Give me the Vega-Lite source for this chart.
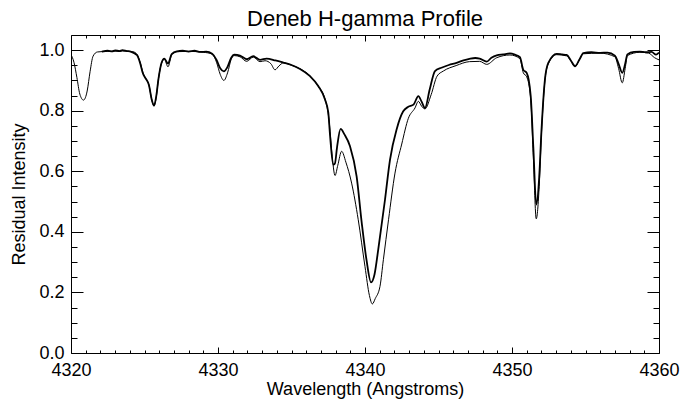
{
  "$schema": "https://vega.github.io/schema/vega-lite/v6.json",
  "autosize": "none",
  "width": 588,
  "height": 318,
  "padding": {"left": 71, "top": 35, "right": 30, "bottom": 47},
  "background": "white",
  "config": {
    "view": {"stroke": "black", "strokeWidth": 1},
    "font": "Liberation Sans",
    "axis": {"grid": false, "domain": false, "labelFlush": false, "tickColor": "black", "labelColor": "black", "titleColor": "black", "labelFont": "Liberation Sans", "titleFont": "Liberation Sans", "labelFontSize": 18, "titleFontSize": 18, "titleFontWeight": "normal", "tickWidth": 1}
  },
  "title": {"text": "Deneb H-gamma Profile", "fontSize": 22, "fontWeight": "normal", "font": "Liberation Sans", "color": "black", "offset": 4, "anchor": "middle"},
  "datasets": {
    "model": [
      {"w": 4320.0, "r": 0.985}, {"w": 4320.2, "r": 0.96}, {"w": 4320.4, "r": 0.91}, {"w": 4320.6, "r": 0.855},
      {"w": 4320.85, "r": 0.835}, {"w": 4321.1, "r": 0.865}, {"w": 4321.3, "r": 0.93}, {"w": 4321.5, "r": 0.98},
      {"w": 4321.8, "r": 0.994}, {"w": 4322.5, "r": 0.996}, {"w": 4323.5, "r": 0.997}, {"w": 4324.2, "r": 0.995},
      {"w": 4324.5, "r": 0.985}, {"w": 4324.7, "r": 0.96}, {"w": 4324.9, "r": 0.925}, {"w": 4325.1, "r": 0.905},
      {"w": 4325.3, "r": 0.885}, {"w": 4325.5, "r": 0.835}, {"w": 4325.65, "r": 0.815}, {"w": 4325.8, "r": 0.845},
      {"w": 4325.95, "r": 0.905}, {"w": 4326.15, "r": 0.955}, {"w": 4326.35, "r": 0.97}, {"w": 4326.6, "r": 0.945},
      {"w": 4326.85, "r": 0.985}, {"w": 4327.2, "r": 0.995}, {"w": 4328.0, "r": 0.996}, {"w": 4329.0, "r": 0.993},
      {"w": 4329.6, "r": 0.987}, {"w": 4329.9, "r": 0.96}, {"w": 4330.15, "r": 0.92}, {"w": 4330.4, "r": 0.9},
      {"w": 4330.65, "r": 0.925}, {"w": 4330.9, "r": 0.97}, {"w": 4331.1, "r": 0.982}, {"w": 4331.5, "r": 0.978},
      {"w": 4331.95, "r": 0.963}, {"w": 4332.4, "r": 0.977}, {"w": 4332.86, "r": 0.962}, {"w": 4333.2, "r": 0.965},
      {"w": 4333.6, "r": 0.955}, {"w": 4333.88, "r": 0.935}, {"w": 4334.15, "r": 0.948}, {"w": 4334.45, "r": 0.958},
      {"w": 4335.0, "r": 0.95}, {"w": 4335.6, "r": 0.938}, {"w": 4336.3, "r": 0.913}, {"w": 4336.8, "r": 0.882},
      {"w": 4337.3, "r": 0.835}, {"w": 4337.55, "r": 0.77}, {"w": 4337.75, "r": 0.66}, {"w": 4337.96, "r": 0.586},
      {"w": 4338.15, "r": 0.62}, {"w": 4338.41, "r": 0.666}, {"w": 4338.7, "r": 0.63}, {"w": 4339.09, "r": 0.561},
      {"w": 4339.54, "r": 0.44}, {"w": 4340.0, "r": 0.285}, {"w": 4340.3, "r": 0.19}, {"w": 4340.5, "r": 0.162},
      {"w": 4340.7, "r": 0.18}, {"w": 4341.02, "r": 0.22}, {"w": 4341.25, "r": 0.308}, {"w": 4341.6, "r": 0.44},
      {"w": 4342.04, "r": 0.594}, {"w": 4342.5, "r": 0.69}, {"w": 4342.95, "r": 0.775}, {"w": 4343.4, "r": 0.809},
      {"w": 4343.63, "r": 0.831}, {"w": 4343.85, "r": 0.815}, {"w": 4344.08, "r": 0.806}, {"w": 4344.5, "r": 0.853},
      {"w": 4344.9, "r": 0.914}, {"w": 4345.33, "r": 0.931}, {"w": 4346.2, "r": 0.949}, {"w": 4347.1, "r": 0.962},
      {"w": 4347.8, "r": 0.963}, {"w": 4348.28, "r": 0.953}, {"w": 4348.96, "r": 0.975}, {"w": 4349.86, "r": 0.984},
      {"w": 4350.54, "r": 0.972}, {"w": 4350.77, "r": 0.925}, {"w": 4351.0, "r": 0.912}, {"w": 4351.27, "r": 0.84},
      {"w": 4351.45, "r": 0.65}, {"w": 4351.65, "r": 0.443}, {"w": 4351.85, "r": 0.55}, {"w": 4352.0, "r": 0.72},
      {"w": 4352.24, "r": 0.9}, {"w": 4352.47, "r": 0.955}, {"w": 4353.04, "r": 0.985}, {"w": 4353.72, "r": 0.981},
      {"w": 4354.0, "r": 0.965}, {"w": 4354.29, "r": 0.945}, {"w": 4354.6, "r": 0.97}, {"w": 4354.85, "r": 0.988},
      {"w": 4356.0, "r": 0.99}, {"w": 4357.0, "r": 0.978}, {"w": 4357.25, "r": 0.94}, {"w": 4357.5, "r": 0.892},
      {"w": 4357.7, "r": 0.94}, {"w": 4357.85, "r": 0.982}, {"w": 4358.7, "r": 0.993}, {"w": 4359.3, "r": 0.99},
      {"w": 4359.7, "r": 0.975}, {"w": 4360.0, "r": 0.968}
    ],
    "obs": [
      {"w": 4322.1, "r": 0.995}, {"w": 4322.5, "r": 0.998}, {"w": 4322.8, "r": 0.996}, {"w": 4323.0, "r": 0.999},
      {"w": 4323.3, "r": 0.997}, {"w": 4323.5, "r": 1.0}, {"w": 4323.8, "r": 0.997}, {"w": 4324.0, "r": 0.996},
      {"w": 4324.3, "r": 0.99}, {"w": 4324.5, "r": 0.983}, {"w": 4324.7, "r": 0.958}, {"w": 4324.9, "r": 0.922},
      {"w": 4325.1, "r": 0.905}, {"w": 4325.3, "r": 0.885}, {"w": 4325.5, "r": 0.835}, {"w": 4325.65, "r": 0.817},
      {"w": 4325.8, "r": 0.848}, {"w": 4325.95, "r": 0.905}, {"w": 4326.15, "r": 0.957}, {"w": 4326.35, "r": 0.972},
      {"w": 4326.6, "r": 0.956}, {"w": 4326.85, "r": 0.987}, {"w": 4327.2, "r": 0.996}, {"w": 4327.6, "r": 0.998},
      {"w": 4328.0, "r": 0.995}, {"w": 4328.4, "r": 0.998}, {"w": 4328.8, "r": 0.994}, {"w": 4329.2, "r": 0.995},
      {"w": 4329.6, "r": 0.988}, {"w": 4329.9, "r": 0.968}, {"w": 4330.15, "r": 0.94}, {"w": 4330.4, "r": 0.93},
      {"w": 4330.65, "r": 0.945}, {"w": 4330.9, "r": 0.975}, {"w": 4331.1, "r": 0.985}, {"w": 4331.5, "r": 0.982},
      {"w": 4331.95, "r": 0.97}, {"w": 4332.4, "r": 0.98}, {"w": 4332.86, "r": 0.968}, {"w": 4333.3, "r": 0.972},
      {"w": 4333.9, "r": 0.966}, {"w": 4334.44, "r": 0.959}, {"w": 4335.0, "r": 0.951}, {"w": 4335.58, "r": 0.938},
      {"w": 4336.26, "r": 0.914}, {"w": 4336.83, "r": 0.881}, {"w": 4337.28, "r": 0.837}, {"w": 4337.5, "r": 0.795},
      {"w": 4337.62, "r": 0.72}, {"w": 4337.84, "r": 0.622}, {"w": 4337.95, "r": 0.625}, {"w": 4338.1, "r": 0.68},
      {"w": 4338.34, "r": 0.74}, {"w": 4338.6, "r": 0.722}, {"w": 4338.98, "r": 0.683}, {"w": 4339.43, "r": 0.583},
      {"w": 4339.78, "r": 0.429}, {"w": 4340.1, "r": 0.308}, {"w": 4340.41, "r": 0.233}, {"w": 4340.65, "r": 0.26},
      {"w": 4340.9, "r": 0.341}, {"w": 4341.36, "r": 0.506}, {"w": 4341.7, "r": 0.638}, {"w": 4342.16, "r": 0.74},
      {"w": 4342.6, "r": 0.798}, {"w": 4342.95, "r": 0.813}, {"w": 4343.3, "r": 0.82}, {"w": 4343.63, "r": 0.848},
      {"w": 4343.85, "r": 0.83}, {"w": 4344.08, "r": 0.809}, {"w": 4344.4, "r": 0.87}, {"w": 4344.76, "r": 0.931},
      {"w": 4345.2, "r": 0.942}, {"w": 4345.7, "r": 0.951}, {"w": 4346.23, "r": 0.958}, {"w": 4346.7, "r": 0.966},
      {"w": 4347.1, "r": 0.971}, {"w": 4347.5, "r": 0.974}, {"w": 4347.8, "r": 0.972}, {"w": 4348.28, "r": 0.962},
      {"w": 4348.6, "r": 0.975}, {"w": 4348.96, "r": 0.983}, {"w": 4349.4, "r": 0.986}, {"w": 4349.86, "r": 0.989},
      {"w": 4350.2, "r": 0.985}, {"w": 4350.54, "r": 0.977}, {"w": 4350.77, "r": 0.935}, {"w": 4351.0, "r": 0.925},
      {"w": 4351.27, "r": 0.85}, {"w": 4351.45, "r": 0.68}, {"w": 4351.65, "r": 0.49}, {"w": 4351.85, "r": 0.58},
      {"w": 4352.0, "r": 0.73}, {"w": 4352.24, "r": 0.903}, {"w": 4352.47, "r": 0.958}, {"w": 4353.04, "r": 0.988},
      {"w": 4353.4, "r": 0.986}, {"w": 4353.72, "r": 0.984}, {"w": 4354.0, "r": 0.966}, {"w": 4354.29, "r": 0.947},
      {"w": 4354.6, "r": 0.97}, {"w": 4354.85, "r": 0.99}, {"w": 4355.4, "r": 0.993}, {"w": 4356.0, "r": 0.991},
      {"w": 4356.5, "r": 0.992}, {"w": 4357.0, "r": 0.982}, {"w": 4357.25, "r": 0.955}, {"w": 4357.5, "r": 0.925},
      {"w": 4357.7, "r": 0.955}, {"w": 4357.85, "r": 0.986}, {"w": 4358.3, "r": 0.994}, {"w": 4358.7, "r": 0.995},
      {"w": 4359.1, "r": 0.993}, {"w": 4359.5, "r": 0.994}, {"w": 4359.8, "r": 0.985}, {"w": 4360.0, "r": 0.992}
    ]
  },
  "layer": [
    {
      "data": {"name": "model"},
      "mark": {"type": "line", "color": "black", "strokeWidth": 1, "clip": true, "interpolate": "monotone"},
      "encoding": {
        "x": {"field": "w", "type": "quantitative", "scale": {"domain": [4320, 4360], "nice": false, "zero": false},
          "axis": {"orient": "bottom", "values": [4320, 4330, 4340, 4350, 4360], "format": "d", "tickSize": -6, "labelPadding": 14, "title": "Wavelength (Angstroms)", "titlePadding": 1}},
        "y": {"field": "r", "type": "quantitative", "scale": {"domain": [0, 1.05], "nice": false, "zero": false},
          "axis": {"orient": "left", "values": [0, 0.2, 0.4, 0.6, 0.8, 1.0], "format": ".1f", "tickSize": -12, "labelPadding": 19, "title": "Residual Intensity", "titlePadding": 10}}
      }
    },
    {
      "data": {"name": "obs"},
      "mark": {"type": "line", "color": "black", "strokeWidth": 1.8, "clip": true, "interpolate": "monotone"},
      "encoding": {
        "x": {"field": "w", "type": "quantitative", "axis": {"orient": "top", "values": [4320, 4330, 4340, 4350, 4360], "tickSize": -6, "labels": false, "title": null}},
        "y": {"field": "r", "type": "quantitative", "axis": {"orient": "right", "values": [0, 0.2, 0.4, 0.6, 0.8, 1.0], "tickSize": -12, "labels": false, "title": null}}
      }
    },
    {
      "data": {"name": "model"},
      "mark": {"type": "line", "opacity": 0, "clip": true},
      "encoding": {
        "x": {"field": "w", "type": "quantitative", "axis": {"orient": "bottom", "values": [4321,4322,4323,4324,4325,4326,4327,4328,4329,4331,4332,4333,4334,4335,4336,4337,4338,4339,4341,4342,4343,4344,4345,4346,4347,4348,4349,4351,4352,4353,4354,4355,4356,4357,4358,4359], "tickSize": -3, "labels": false, "title": null}},
        "y": {"field": "r", "type": "quantitative", "axis": {"orient": "left", "values": [0.05,0.1,0.15,0.25,0.3,0.35,0.45,0.5,0.55,0.65,0.7,0.75,0.85,0.9,0.95], "tickSize": -6, "labels": false, "title": null}}
      }
    },
    {
      "data": {"name": "model"},
      "mark": {"type": "line", "opacity": 0, "clip": true},
      "encoding": {
        "x": {"field": "w", "type": "quantitative", "axis": {"orient": "top", "values": [4321,4322,4323,4324,4325,4326,4327,4328,4329,4331,4332,4333,4334,4335,4336,4337,4338,4339,4341,4342,4343,4344,4345,4346,4347,4348,4349,4351,4352,4353,4354,4355,4356,4357,4358,4359], "tickSize": -3, "labels": false, "title": null}},
        "y": {"field": "r", "type": "quantitative", "axis": {"orient": "right", "values": [0.05,0.1,0.15,0.25,0.3,0.35,0.45,0.5,0.55,0.65,0.7,0.75,0.85,0.9,0.95], "tickSize": -6, "labels": false, "title": null}}
      }
    }
  ],
  "resolve": {"axis": {"x": "independent", "y": "independent"}}
}
